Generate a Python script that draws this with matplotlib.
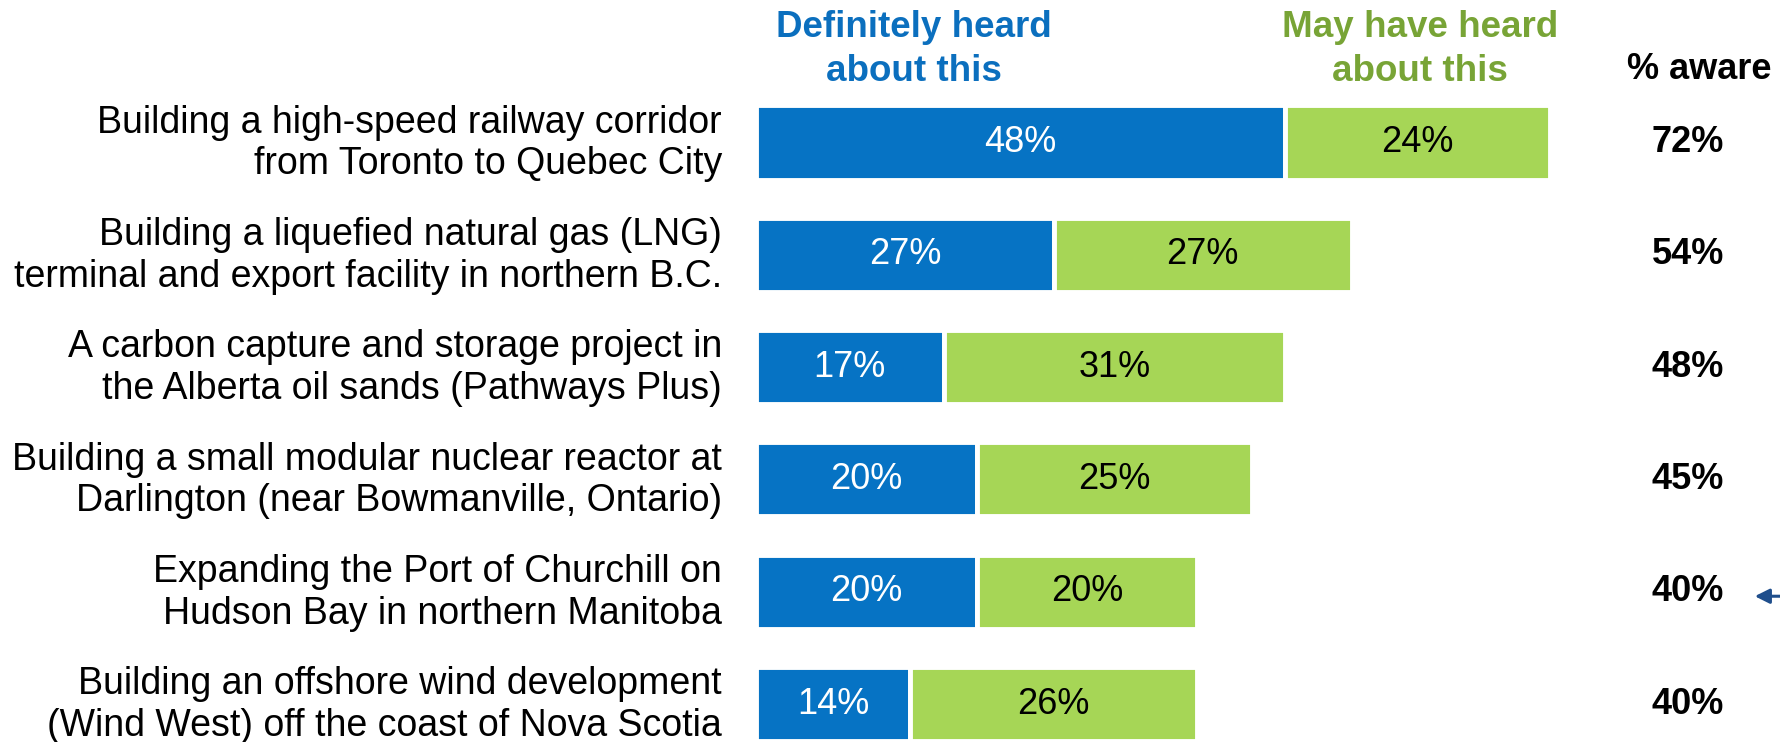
import matplotlib
matplotlib.use("Agg")
import matplotlib.pyplot as plt

# ---------------------------------------------------------
# data
# ---------------------------------------------------------
projetos = [
    "Building a high-speed railway corridor\nfrom Toronto to Quebec City",
    "Building a liquefied natural gas (LNG)\nterminal and export facility in northern B.C.",
    "A carbon capture and storage project in\nthe Alberta oil sands (Pathways Plus)",
    "Building a small modular nuclear reactor at\nDarlington (near Bowmanville, Ontario)",
    "Expanding the Port of Churchill on\nHudson Bay in northern Manitoba",
    "Building an offshore wind development\n(Wind West) off the coast of Nova Scotia",
]
definitely = [48, 27, 17, 20, 20, 14]
may_have = [24, 27, 31, 25, 20, 26]
aware = [72, 54, 48, 45, 40, 40]

AZUL = "#0673C4"
VERDE = "#A6D656"
AZUL_TXT = "#0B6FBE"
VERDE_TXT = "#78A436"

plt.rcParams["font.family"] = ["Liberation Sans", "DejaVu Sans"]

fig = plt.figure(figsize=(17.8, 7.42), dpi=100)
ax = fig.add_axes([756 / 1780, 0, 1 - 756 / 1780, 1])
ax.set_xlim(0, 1024 / 11.03)
ax.set_ylim(5.338, -1.269)
ax.axis("off")

ys = list(range(len(projetos)))

# barras empilhadas
ax.barh(ys, definitely, height=0.66, color=AZUL, edgecolor="white", linewidth=3.5)
ax.barh(ys, may_have, left=definitely, height=0.66, color=VERDE,
        edgecolor="white", linewidth=3.5)

for y, d, m, a, nome in zip(ys, definitely, may_have, aware, projetos):
    ax.text(d / 2, y, f"{d}%", ha="center", va="center", color="white", fontsize=26)
    ax.text(d + m / 2, y, f"{m}%", ha="center", va="center", color="black", fontsize=26)
    ax.text(84.5, y, f"{a}%", ha="center", va="center", color="black",
            fontsize=26, weight="bold")
    ax.text(-3.1, y + 0.01, nome, ha="right", va="center", color="black", fontsize=27,
            linespacing=1.2, clip_on=False)

# cabeçalhos
ax.text(14.3, -0.83, "Definitely heard\nabout this", ha="center", va="center",
        color=AZUL_TXT, fontsize=26.5, weight="bold", linespacing=1.32)
ax.text(60.2, -0.83, "May have heard\nabout this", ha="center", va="center",
        color=VERDE_TXT, fontsize=26.5, weight="bold", linespacing=1.32)
ax.text(85.5, -0.646, "% aware", ha="center", va="center", color="black",
        fontsize=26, weight="bold")

# seta cortada na borda direita
ax.annotate("", xy=(90.3, 4.04), xytext=(93.5, 4.04),
            arrowprops=dict(arrowstyle="-|>", color="#1F4E8C", lw=2.2,
                            mutation_scale=22),
            annotation_clip=False)

fig.savefig("out.png", dpi=100, facecolor="white")
